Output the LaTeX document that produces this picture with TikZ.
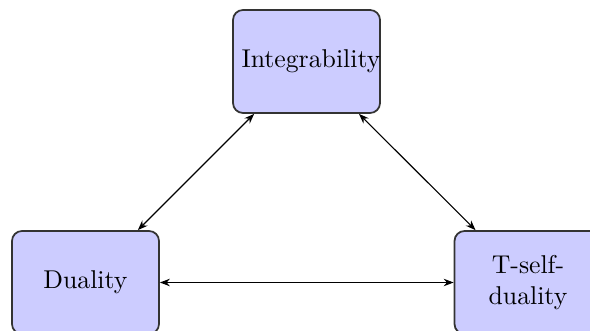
\documentclass[tikz,border=0pt]{standalone}
\usetikzlibrary{arrows.meta}
\begin{document}
\begin{tikzpicture}[x=0.4pt,y=-0.4pt,
  topic/.style={draw=black!80, line width=0.7pt, fill=blue!20, rounded corners=4pt,
    minimum width=58.8pt, minimum height=41.2pt, text width=52pt, align=center, inner sep=2pt,
    font=\fontsize{10.3pt}{12.4pt}\selectfont},
  link/.style={{Stealth[length=4pt,width=3pt]}-{Stealth[length=4pt,width=3pt]}, line width=0.45pt}]
\useasboundingbox (0,0) rectangle (590,331);
\begin{scope}
\clip (0,0) rectangle (590,331);
\node[topic] (int) at (306.5,61.5) {Integrability};
\node[topic] (dual) at (85.5,282.5) {Duality};
\node[topic] (tsd) at (528,282.5) {T-self-\\duality};
\draw[link] (int) -- (dual);
\draw[link] (int) -- (tsd);
\draw[link] (dual) -- (tsd);
\end{scope}
\end{tikzpicture}
\end{document}
